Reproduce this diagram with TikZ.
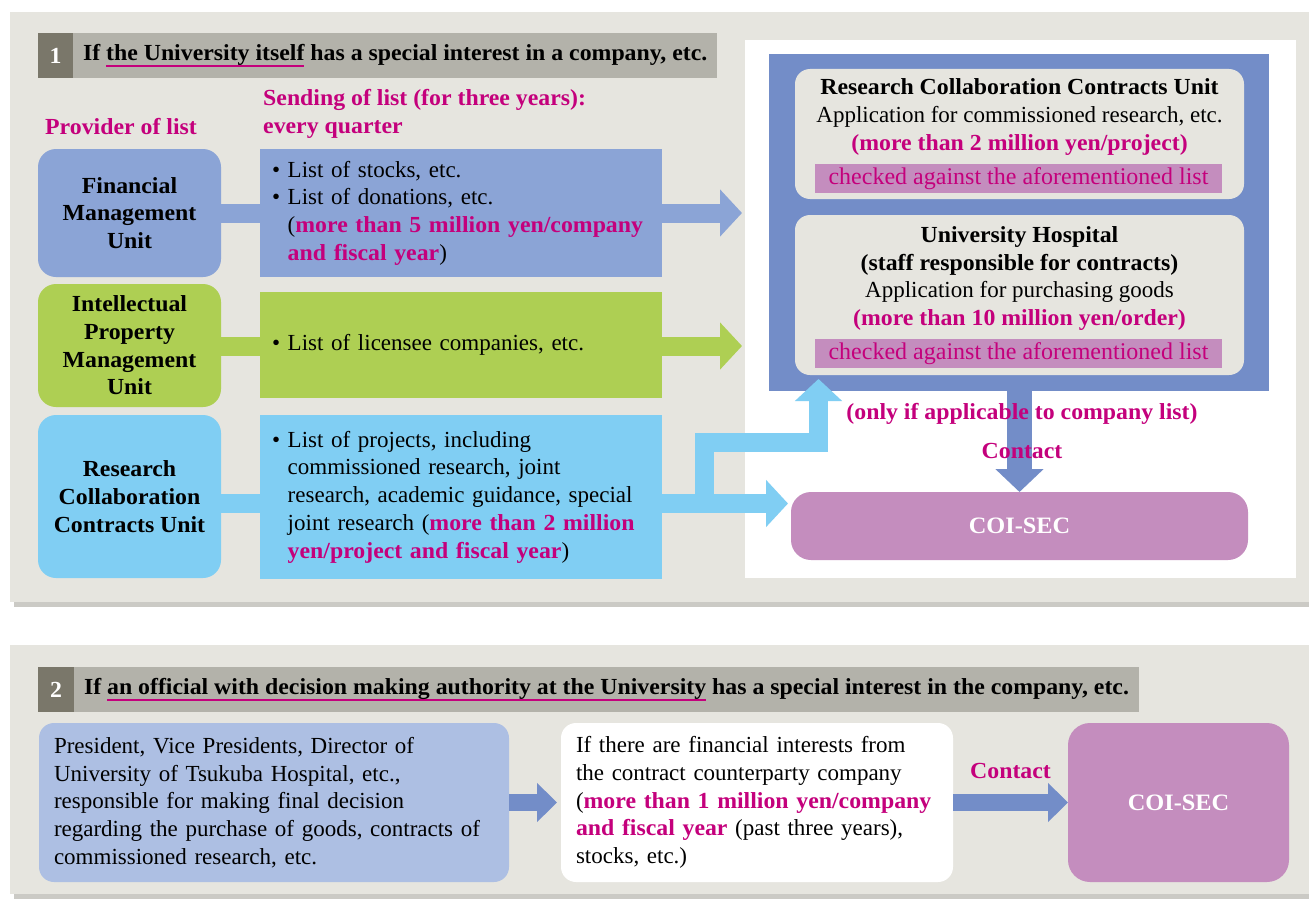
\documentclass[tikz,border=0pt]{standalone}
\usepackage{fontspec}
\setmainfont{Liberation Serif}[BoldFeatures={FakeStretch=1.035}]
\usepackage{xcolor}
\usepackage{tikz}
\usetikzlibrary{arrows.meta, positioning}
\definecolor{panelGray}{HTML}{E6E5DF}
\definecolor{panelShadow}{HTML}{CBCAC5}
\definecolor{headDark}{HTML}{7A776A}
\definecolor{headBar}{HTML}{B3B2AA}
\definecolor{accent}{HTML}{C4007C}
\definecolor{unitFin}{HTML}{8BA4D6}
\definecolor{unitIP}{HTML}{AECF53}
\definecolor{unitRC}{HTML}{80CEF3}
\definecolor{checkBlue}{HTML}{738DC8}
\definecolor{coiPink}{HTML}{C48DBE}
\definecolor{officialBlue}{HTML}{ADBFE3}

\newcommand{\bodyfont}{\fontsize{23}{27.7}\selectfont}
\newcommand{\hot}[1]{\textcolor{accent}{\bfseries #1}}
\newcommand{\bi}{\hphantom{\textbullet\ }}
\newcommand{\magul}[1]{\setbox0\hbox{#1}%
  \rlap{\textcolor{accent}{\rule[-7pt]{\wd0}{2pt}}}\box0\relax}

\pgfdeclarelayer{panels}
\pgfdeclarelayer{arrowlayer}
\pgfsetlayers{panels,arrowlayer,main}

\begin{document}
\begin{tikzpicture}[
    x=1pt, y=-1pt,
    headnum/.style={fill=headDark, text=white, minimum width=35pt,
                    minimum height=45pt, anchor=north west, inner sep=0pt,
                    outer sep=0pt, font=\bodyfont\bfseries},
    headbar/.style={fill=headBar, minimum height=45pt, inner xsep=10pt,
                    inner ysep=0pt, outer sep=0pt, font=\bodyfont\bfseries},
    unit/.style={rounded corners=18pt, minimum width=183pt, anchor=north west,
                 inner sep=0pt, outer sep=0pt, font=\bodyfont\bfseries,
                 align=center},
    listbox/.style={anchor=north west, text width=378pt, inner xsep=12pt,
                    inner ysep=0pt, outer sep=0pt, font=\bodyfont, align=left},
    innerbox/.style={fill=panelGray, rounded corners=15pt, minimum width=449pt,
                     anchor=north west, outer sep=0pt},
    checkbar/.style={fill=coiPink, text=accent, minimum width=407pt,
                     minimum height=29pt, inner sep=0pt,
                     font=\fontsize{24}{27.7}\selectfont},
    coi/.style={fill=coiPink, text=white, anchor=north west, outer sep=0pt,
                font=\fontsize{23.5}{28}\selectfont\bfseries},
    lbl/.style={text=accent, font=\bodyfont\bfseries, inner sep=0pt},
    barrow/.style={-{Triangle[length=22pt, width=46pt]}, line width=19pt},
    sarrow/.style={-{Triangle[length=20pt, width=38pt]}, line width=17pt,
                   checkBlue},
]
\useasboundingbox (0,0) rectangle (1309,899);

% grey panels
\begin{pgfonlayer}{panels}
\fill[panelShadow] (14,15) rectangle (1309,607);
\fill[panelGray] (10,12) rectangle (1309,602);
\fill[white] (745,40) rectangle (1296,578);
\fill[panelShadow] (14,648) rectangle (1309,899);
\fill[panelGray] (10,645) rectangle (1309,894);
\end{pgfonlayer}

% case 1
\node[headnum] (num1) at (38,33) {1};
\node[headbar, right=0pt of num1] (head1)
    {If \magul{the University itself} has a special interest in a company, etc.};

\node[lbl, anchor=west] (provider) at (45,127) {Provider of list};
\node[lbl, anchor=west, align=left] (sending) at (263,114)
    {Sending of list (for three years):\\every quarter};

\node[unit, fill=unitFin, minimum height=128pt] (fin) at (38,149)
    {Financial\\Management\\Unit};
\node[unit, fill=unitIP, minimum height=123pt] (ip) at (38,284)
    {Intellectual\\Property\\Management\\Unit};
\node[unit, fill=unitRC, minimum height=163pt] (rc) at (38,415)
    {Research\\Collaboration\\Contracts Unit};

\node[listbox, fill=unitFin, minimum height=128pt] (finlist) at (260,149)
    {\textbullet\ List of stocks, etc.\\
     \textbullet\ List of donations, etc.\\
     \bi(\hot{more than 5 million yen/company}\\
     \bi\hot{and fiscal year})};
\node[listbox, fill=unitIP, minimum height=106pt] (iplist) at (260,292)
    {\textbullet\ List of licensee companies, etc.};
\node[listbox, fill=unitRC, minimum height=164pt] (rclist) at (260,415)
    {\textbullet\ List of projects, including\\
     \bi commissioned research, joint\\
     \bi research, academic guidance, special\\
     \bi joint research (\hot{more than 2 million}\\
     \bi\hot{yen/project and fiscal year})};

\node[innerbox, minimum height=130pt] (rcu) at (795,69) {};
\node[font=\bodyfont, align=center, inner sep=0pt] (rcutext) at (1019.5,117)
    {\textbf{Research Collaboration Contracts Unit}\\
     Application for commissioned research, etc.\\
     \hot{(more than 2 million yen/project)}};
\node[checkbar] (check1) at (1018.5,178.5) {checked against the aforementioned list};

\node[innerbox, minimum height=160pt] (hosp) at (795,215) {};
\node[font=\bodyfont, align=center, inner sep=0pt] (hosptext) at (1019.5,278.5)
    {\textbf{University Hospital}\\
     \textbf{(staff responsible for contracts)}\\
     Application for purchasing goods\\
     \hot{(more than 10 million yen/order)}};
\node[checkbar] (check2) at (1018.5,353.5) {checked against the aforementioned list};

\node[coi, rounded corners=20pt, minimum width=457pt, minimum height=68pt]
    (coi1) at (791,492) {COI-SEC};

\node[lbl] (onlyif) at (1022,414) {(only if applicable to company list)};
\node[lbl] (contact1) at (1022,451) {Contact};

\coordinate (finend) at (742,213);
\coordinate (ipend) at (742,346);
\coordinate (rcend) at (788,503.5);
\coordinate (split) at (704.5,503.5);
\coordinate (elbow) at (818.5,442.5);
\coordinate (upend) at (818.5,379);

\begin{pgfonlayer}{arrowlayer}
\node[fill=checkBlue, minimum width=500pt, minimum height=337pt,
      anchor=north west, outer sep=0pt] (checkbox) at (769,54) {};
\draw[barrow, unitFin] (fin.east) -- (finend);
\draw[barrow, unitIP] (ip.east |- ipend) -- (ipend);
\draw[barrow, unitRC] (rc.east |- rcend) -- (rcend);
\draw[barrow, unitRC] (split) |- (elbow) -- (upend);
\draw[barrow, checkBlue, line width=25pt,
      -{Triangle[length=23pt, width=47pt]}]
    (checkbox.south -| coi1.north) -- (coi1.north);
\end{pgfonlayer}

% case 2
\node[headnum, minimum width=36pt] (num2) at (38,667) {2};
\node[headbar, right=0pt of num2] (head2)
    {If \magul{an official with decision making authority at the University}
     has a special interest in the company, etc.};

\node[fill=officialBlue, rounded corners=15pt, anchor=north west,
      minimum height=159pt, text width=440pt, inner xsep=15pt, inner ysep=0pt,
      outer sep=0pt, font=\bodyfont, align=left] (official) at (39,723)
    {President, Vice Presidents, Director of\\
     University of Tsukuba Hospital, etc.,\\
     responsible for making final decision\\
     regarding the purchase of goods, contracts of\\
     commissioned research, etc.};
\node[fill=white, rounded corners=15pt, anchor=north west,
      minimum height=159pt, text width=362pt, inner xsep=15pt, inner ysep=0pt,
      outer sep=0pt, font=\bodyfont, align=left] (interest) at (561,723)
    {If there are financial interests from\\
     the contract counterparty company\\
     (\hot{more than 1 million yen/company}\\
     \hot{and fiscal year} (past three years),\\
     stocks, etc.)};
\node[coi, rounded corners=22pt, minimum width=221pt, minimum height=159pt]
    (coi2) at (1068,723) {COI-SEC};

\draw[sarrow, shorten >=4pt] (official) -- (interest);
\draw[sarrow] (interest) -- node[lbl, above=15pt] {Contact} (coi2);
\end{tikzpicture}
\end{document}
